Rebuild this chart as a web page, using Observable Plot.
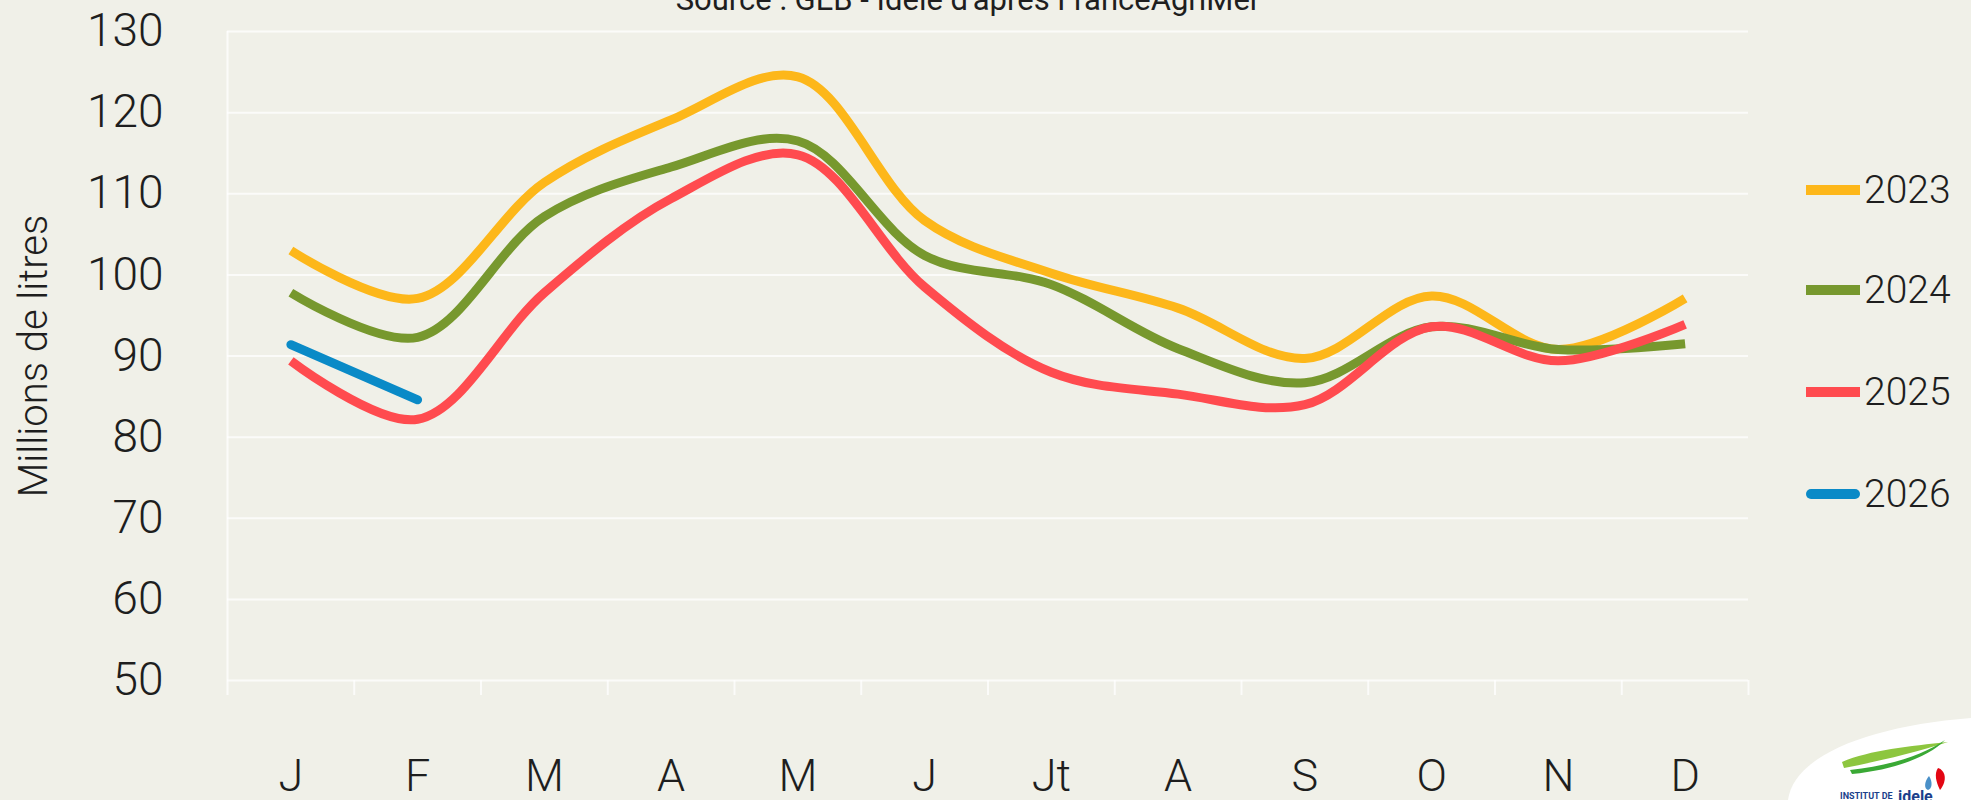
<!DOCTYPE html>
<html><head><meta charset="utf-8">
<script src="https://cdn.jsdelivr.net/npm/d3@7"></script>
<script src="https://cdn.jsdelivr.net/npm/@observablehq/plot@0.6"></script>
<style>
html,body{margin:0;padding:0;background:#f0f0e8;}
#wrap{position:relative;width:1971px;height:800px;overflow:hidden;background:#f0f0e8;font-family:Roboto,"Noto Sans",sans-serif;font-weight:300;color:#1e1e1e;}
#wrap svg.plot{position:absolute;left:0;top:0;}
#title{position:absolute;left:968px;top:-20px;transform:translateX(-50%);font-size:31px;font-weight:400;white-space:nowrap;line-height:40px;}
#ylab{position:absolute;left:34px;top:356px;transform:translate(-50%,-50%) rotate(-90deg);font-size:40px;white-space:nowrap;line-height:44px;}
.leg{position:absolute;left:1806px;height:50px;display:flex;align-items:center;font-size:39px;}
.leg .sw{width:54px;height:10px;margin-right:4px;}
#logo{position:absolute;left:1780px;top:710px;}
</style></head><body><div id="wrap">
<div id="title"></div>
<div id="ylab"></div>
<div id="legend"></div>
<svg id="logo" width="191" height="90" viewBox="0 0 191 90">
  <path d="M8,90 C14,45 90,16 191,8 L191,90 Z" fill="#ffffff"/>
  <path d="M62,52 C90,40 130,36 168,32 C130,44 95,52 64,58 Z" fill="#8dc63f"/>
  <path d="M70,60 C110,56 145,44 165,30 C150,46 115,60 72,64 Z" fill="#3aa935"/>
  <path d="M158,58 C165,60 168,70 160,80 C156,72 154,64 158,58 Z" fill="#e30613"/>
  <path d="M149,66 C153,72 152,79 148,80 C144,79 144,72 149,66 Z" fill="#4a90c8"/>
  <text x="60" y="89" font-size="9" font-weight="700" fill="#1b3f8b" font-family="Roboto">INSTITUT DE</text>
  <text x="118" y="92" font-size="16" font-weight="700" fill="#1b3f8b" font-family="Roboto">idele</text>
</svg>
</div>
<script>
const monthLabels = ["J","F","M","A","M","J","Jt","A","S","O","N","D"];
const years = ["2023","2024","2025","2026"];
const colors = ["#FDB71A","#77982E","#FF4B4F","#0A8AC7"];
const v2023 = [103.0, 97.1, 111.4, 119.1, 124.4, 106.7, 100.2, 95.9, 89.7, 97.4, 90.8, 97.1];
const v2024 = [97.8, 92.3, 107.2, 113.3, 116.5, 102.4, 98.8, 90.9, 86.7, 93.6, 90.8, 91.5];
const v2025 = [89.4, 82.2, 97.8, 109.4, 114.8, 98.5, 88.0, 85.3, 84.0, 93.6, 89.4, 93.9];
const v2026 = [91.4, 84.6];
const yTicks = [50, 60, 70, 80, 90, 100, 110, 120, 130];
const titleText = "Source : GEB - Idele d'après FranceAgriMer";
const yLabelText = "Millions de litres";

const series = [v2023, v2024, v2025, v2026];
const rows = series.map((vals, s) => vals.map((v, i) => ({year: years[s], m: i, v})));
const idx = d3.range(monthLabels.length);

const W = 1971, H = 800, mL = 227, mR = 223, mT = 31, mB = 120;
const step = (W - mL - mR) / monthLabels.length;
const gridStyle = {stroke: "#ffffff", strokeOpacity: 0.75, strokeWidth: 2};

const lineMarks = rows.slice(0, 3).map((r, s) =>
  Plot.line(r, {x: "m", y: "v", stroke: colors[s], strokeWidth: 9, curve: "catmull-rom", strokeLinecap: "butt"}));

const plot = Plot.plot({
  width: W, height: H,
  marginLeft: mL, marginRight: mR, marginTop: mT, marginBottom: mB,
  style: {background: "transparent", fontFamily: "Roboto, 'Noto Sans', sans-serif", fontWeight: 300, color: "#1e1e1e"},
  x: {type: "point", domain: idx, padding: 0.5, round: false},
  y: {domain: [50, 130]},
  marks: [
    Plot.gridY(yTicks, gridStyle),
    Plot.ruleX([0], {x: d => d, dx: -step / 2, y1: 130, y2: 50, insetBottom: -15, ...gridStyle}),
    Plot.ruleX(idx.slice(1), {x: d => d, dx: -step / 2, y1: 50, y2: 50, insetBottom: -15, ...gridStyle}),
    Plot.ruleX([idx[idx.length - 1]], {x: d => d, dx: step / 2, y1: 50, y2: 50, insetBottom: -15, ...gridStyle}),
    Plot.axisY(yTicks, {tickSize: 0, tickPadding: 64, fontSize: 46, label: null, fill: "#1e1e1e"}),
    Plot.axisX(idx, {tickSize: 0, tickPadding: 79, fontSize: 45, tickFormat: i => monthLabels[i], label: null, fill: "#1e1e1e"}),
    ...lineMarks,
    Plot.line(rows[3], {x: "m", y: "v", stroke: colors[3], strokeWidth: 9, strokeLinecap: "round"})
  ]
});
plot.classList.add("plot");
const wrap = document.getElementById("wrap");
wrap.insertBefore(plot, wrap.firstChild);

document.getElementById("title").textContent = titleText;
document.getElementById("ylab").textContent = yLabelText;

const legTops = [165, 265, 367, 469];
const legend = document.getElementById("legend");
years.forEach((y, i) => {
  const d = document.createElement("div");
  d.className = "leg";
  d.style.top = legTops[i] + "px";
  const sw = document.createElement("span");
  sw.className = "sw";
  sw.style.background = colors[i];
  if (i === 3) sw.style.borderRadius = "5px";
  const t = document.createElement("span");
  t.textContent = y;
  d.appendChild(sw); d.appendChild(t);
  legend.appendChild(d);
});
</script>
</body></html>
